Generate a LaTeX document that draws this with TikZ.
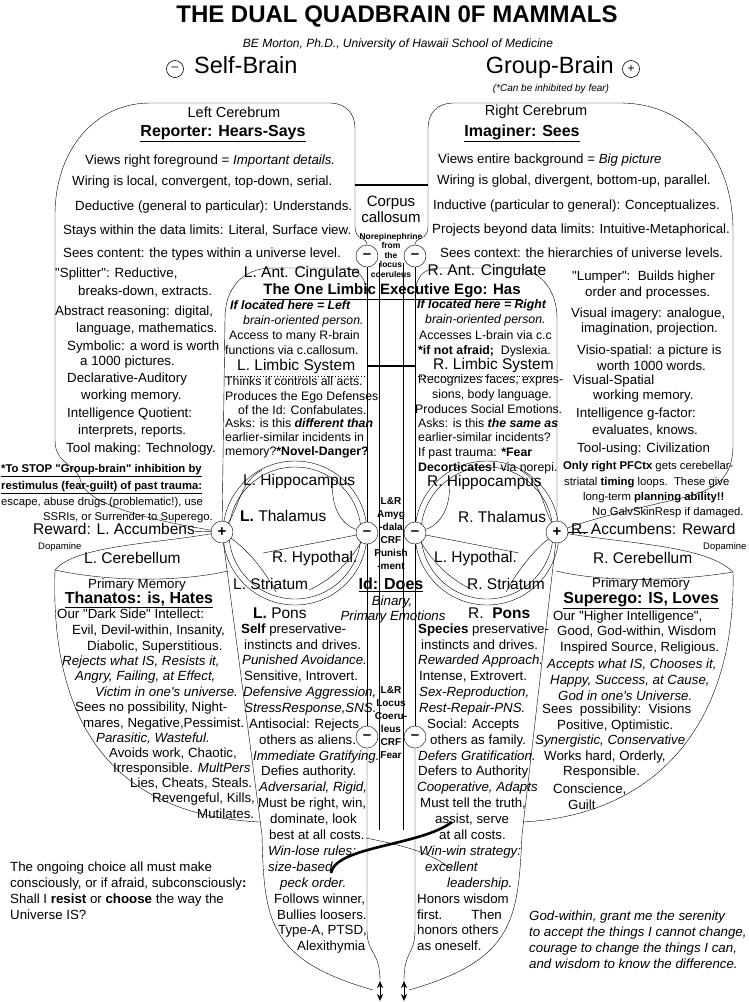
\documentclass[tikz,border=0pt]{standalone}
\usepackage{fontspec}
\setmainfont{Liberation Sans}
\usetikzlibrary{arrows.meta}
\pgfdeclarelayer{bg}
\pgfsetlayers{bg,main}
\newcounter{tn}
\newcommand\putt[4][]{\stepcounter{tn}\node[tx,#1] (t\arabic{tn}) at (#2,#3) {#4};}
\newcommand\qq{\textquotedbl}
\newcommand\ap{\textquotesingle}
\begin{document}
\begin{tikzpicture}[x=1pt,y=-1pt,line width=0.7pt,
  tx/.style={inner sep=0pt, anchor=mid west, font=\fontsize{13.3}{15}\selectfont},
  sm/.style={font=\fontsize{12.3}{15}\selectfont},
  xs/.style={font=\fontsize{11.3}{14}\selectfont},
  lab/.style={font=\fontsize{15.5}{18}\selectfont},
  hd/.style={font=\fontsize{16}{19}\selectfont\bfseries, anchor=mid},
  ctr/.style={anchor=mid},
  nore/.style={inner sep=0pt, font=\fontsize{8.5}{9}\selectfont\bfseries, anchor=mid},
  cn/.style={inner sep=0pt, font=\fontsize{10}{12}\selectfont\bfseries, anchor=mid},
  cir/.style={circle, draw, fill=white, minimum size=22pt, inner sep=0pt, font=\fontsize{15}{15}\selectfont\bfseries},
  hcir/.style={circle, draw, minimum size=17pt, inner sep=0pt, line width=0.6pt, font=\fontsize{12}{12}\selectfont},
  heavy/.style={line width=2.3pt},
  arr/.style={{Stealth[length=7pt,width=6pt]}-{Stealth[length=7pt,width=6pt]}}
]
\useasboundingbox (0,0) rectangle (749,1002);
\begin{pgfonlayer}{bg}
\fill[white] (0,0) rectangle (749,1002);
\draw (295,533) circle[radius=72];
\draw (295,533) circle[radius=66];
\draw (487,533) circle[radius=72];
\draw (487,533) circle[radius=66];
\end{pgfonlayer}

% ---------- header ----------
\node[font=\fontsize{24}{28}\selectfont\bfseries, anchor=mid, inner sep=0] (title) at (397,20) {THE DUAL QUADBRAIN 0F MAMMALS};
\node[font=\fontsize{12}{14}\selectfont\itshape, anchor=mid, inner sep=0] (author) at (398,45) {BE Morton, Ph.D., University of Hawaii School of Medicine};
\node[hcir] (hm) at (175,69) {–};
\node[font=\fontsize{23.5}{28}\selectfont, anchor=mid west, inner sep=0] (selfb) at (194,71) {Self-Brain};
\node[font=\fontsize{23.5}{28}\selectfont, anchor=mid east, inner sep=0] (groupb) at (614,71) {Group-Brain};
\node[hcir] (hp) at (631,69) {+};
\node[font=\fontsize{10}{12}\selectfont\itshape, anchor=mid, inner sep=0] (fear) at (551,89) {(*Can be inhibited by fear)};

% ---------- circles ----------
\node[cir] (mTL) at (367,256) {–};
\node[cir] (mTR) at (415,256) {–};
\node[cir] (pL) at (222,532) {+};
\node[cir] (pR) at (557,532) {+};
\node[cir] (mML) at (367,533) {–};
\node[cir] (mMR) at (415,533) {–};
\node[cir] (mBL) at (367,737) {–};
\node[cir] (mBR) at (415,737) {–};
\coordinate (aL1) at (380,981); \coordinate (aL2) at (380,1001);
\coordinate (aR1) at (404,981); \coordinate (aR2) at (404,1001);
\coordinate (racc) at (588,532);

% ---------- outlines ----------
\draw (pL) .. controls (150,520) and (88,505) .. (81,482) .. controls (76,462) and (55,465) .. (55,440) -- (55,215) .. controls (55,150) and (95,103) .. (150,103) -- (330,103) .. controls (345,103) and (355,113) .. (355,128) -- (355,226) .. controls (355,242) and (367,236) .. (mTL);
\draw (mTR) .. controls (415,236) and (428,242) .. (428,226) -- (428,128) .. controls (428,113) and (438,103) .. (453,103) -- (620,103) .. controls (690,103) and (733,160) .. (733,230) -- (733,445) .. controls (733,478) and (716,488) .. (690,496) .. controls (640,508) and (600,516) .. (pR);
\draw[heavy] (355,185) -- (428,185);
\draw (pL) -- (225,318) .. controls (225,288) and (243,268) .. (272,268) -- (343,268) .. controls (358,268) and (367,278) .. (367,296);
\draw (415,296) .. controls (415,278) and (423,268) .. (439,268) -- (512,268) .. controls (540,268) and (557,290) .. (557,318) -- (pR);
\draw[dotted, line width=0.9pt] (225,376) -- (367,376);
\draw[dotted, line width=0.9pt] (415,376) -- (557,376);
\draw[heavy] (367,366) -- (415,366);
% channel
\draw (mTL) -- (mML);
\draw (mML) -- (mBL);
\draw (mBL) -- (367,930) .. controls (367,955) and (380,950) .. (aL1);
\draw (mTR) -- (mMR);
\draw (mMR) -- (mBR);
\draw (mBR) -- (415,930) .. controls (415,955) and (404,950) .. (aR1);
\draw (379,263) -- (379,830);
\draw (403,263) -- (403,830);
\draw[arr] (aL1) -- (aL2);
\draw[arr] (aR1) -- (aR2);
% thalamus internals
\draw (pL) .. controls (240,505) and (240,482) .. (262,470);
\draw (mML) .. controls (340,524) and (330,505) .. (333,478);
\draw (263,553) -- (mML);
\draw (pL) .. controls (245,548) and (262,566) .. (276,592);
\draw (309,590) .. controls (335,578) and (350,560) .. (mML);
\draw (pR) .. controls (542,505) and (542,482) .. (520,470);
\draw (mMR) .. controls (442,524) and (452,505) .. (449,478);
\draw (519,553) -- (mMR);
\draw (pR) .. controls (537,548) and (520,566) .. (506,592);
\draw (473,590) .. controls (447,578) and (432,560) .. (mMR);
% cerebellum and lower lobes
\draw (pL) .. controls (150,544) and (75,546) .. (55,570);
\draw (55,570) .. controls (110,582) and (180,582) .. (228,571);
\draw (55,570) .. controls (50,720) and (110,815) .. (260,822);
\draw (pL) -- (262,835) .. controls (264,920) and (268,960) .. (373,990);
\draw (pR) .. controls (632,544) and (707,546) .. (733,572);
\draw (733,572) .. controls (672,582) and (602,582) .. (556,571);
\draw (733,572) .. controls (736,720) and (660,815) .. (522,822);
\draw (pR) -- (522,835) .. controls (518,920) and (514,960) .. (409,990);
\draw (pR) -- (racc);
% crossing strands
\draw[line width=2.6pt] (331,873) .. controls (336,846) and (420,846) .. (452,822);
\draw (366,838) .. controls (400,845) and (432,852) .. (452,870);

% ---------- left cerebrum ----------
\putt[lab,ctr,font=\fontsize{14.5}{17}\selectfont]{234}{115}{Left Cerebrum}
\putt[hd]{223}{134}{\underline{Reporter: Hears-Says}}
\putt{85}{162}{Views right foreground = \textit{Important details.}}
\putt{72}{183}{Wiring is local, convergent, top-down, serial.}
\putt{75}{208}{Deductive (general to particular): Understands.}
\putt{63}{232}{Stays within the data limits: Literal, Surface view.}
\putt{63}{255}{Sees content: the types within a universe level.}
\putt{55}{275}{\qq Splitter\qq: Reductive,}
\putt{78}{293}{breaks-down, extracts.}
\putt{55}{313}{Abstract reasoning: digital,}
\putt{76}{330}{language, mathematics.}
\putt{67}{348}{Symbolic: a word is worth}
\putt{80}{363}{a 1000 pictures.}
\putt{67}{380}{Declarative-Auditory}
\putt{81}{397}{working memory.}
\putt{67}{415}{Intelligence Quotient:}
\putt{78}{432}{interprets, reports.}
\putt{66}{450}{Tool making: Technology.}
\putt[xs]{1}{470}{\textbf{\underline{*To STOP \qq Group-brain\qq\ inhibition by}}}
\putt[xs]{1}{487}{\textbf{\underline{restimulus (fear-guilt) of past trauma:}}}
\putt[xs]{1}{503}{escape, abuse drugs (problematic!), use}
\putt[xs]{43}{518}{SSRIs, or Surrender to Superego.}

% ---------- right cerebrum ----------
\putt[ctr,font=\fontsize{14.5}{17}\selectfont]{536}{113}{Right Cerebrum}
\putt[hd]{522}{134}{\underline{Imaginer: Sees}}
\putt{438}{161}{Views entire background = \textit{Big picture}}
\putt{437}{182}{Wiring is global, divergent, bottom-up, parallel.}
\putt{433}{207}{Inductive (particular to general): Conceptualizes.}
\putt{432}{231}{Projects beyond data limits: Intuitive-Metaphorical.}
\putt{440}{255}{Sees context: the hierarchies of universe levels.}
\putt{572}{278}{\qq Lumper\qq:\ \ Builds higher}
\putt{585}{294}{order and processes.}
\putt{571}{315}{Visual imagery: analogue,}
\putt{581}{330}{imagination, projection.}
\putt{577}{352}{Visio-spatial: a picture is}
\putt{597}{368}{worth 1000 words.}
\putt{573}{382}{Visual-Spatial}
\putt{593}{397}{working memory.}
\putt{576}{415}{Intelligence g-factor:}
\putt{592}{432}{evaluates, knows.}
\putt{577}{450}{Tool-using: Civilization}
\putt[xs]{563}{467}{\textbf{Only right PFCtx} gets cerebellar-}
\putt[xs]{564}{483}{striatal \textbf{timing} loops.\ \ These give}
\putt[xs]{583}{498}{long-term \textbf{planning ability!!}}
\putt[xs]{592}{513}{No GalvSkinResp if damaged.}

% ---------- corpus callosum ----------
\putt[ctr,font=\fontsize{15}{17}\selectfont]{391}{204}{Corpus}
\putt[ctr,font=\fontsize{15}{17}\selectfont]{391}{220}{callosum}
\node[nore] (ne1) at (391,237) {Norepinephrine};
\node[nore] (ne2) at (391,246) {from};
\node[nore] (ne3) at (391,255.5) {the};
\node[nore] (ne4) at (391,265) {locus};
\node[nore] (ne5) at (391,274.5) {coeruleus};

% ---------- limbic ----------
\putt[lab,ctr]{302}{275}{L. Ant. Cingulate}
\putt[lab,ctr]{487}{273}{R. Ant. Cingulate}
\putt[ctr,font=\fontsize{15}{18}\selectfont\bfseries]{392}{292}{\underline{The One Limbic Executive Ego: Has}}
\putt[sm]{230}{307}{\textbf{\textit{If located here = Left}}}
\putt[sm]{243}{322}{\textit{brain-oriented person.}}
\putt[sm]{229}{337}{Access to many R-brain}
\putt[sm]{225}{352}{functions via c.callosum.}
\putt[lab]{237}{368}{L. Limbic System}
\putt[sm]{225}{383}{Thinks it controls all acts.}
\putt[sm]{225}{398}{Produces the Ego Defenses}
\putt[sm]{238}{412}{of the Id: Confabulates.}
\putt[sm]{225}{425}{Asks: is this \textbf{\textit{different than}}}
\putt[sm]{225}{439}{earlier-similar incidents in}
\putt[sm]{225}{453}{memory?\textbf{*Novel-Danger?}}
\putt[sm]{417}{306}{\textbf{\textit{If located here = Right}}}
\putt[sm]{425}{321}{\textit{brain-oriented person.}}
\putt[sm]{419}{337}{Accesses L-brain via c.c}
\putt[sm]{418}{352}{\textbf{*if not afraid;}\ \ Dyslexia.}
\putt[lab]{433}{367}{R. Limbic System}
\putt[sm]{418}{381}{Recognizes faces, expres-}
\putt[sm]{432}{396}{sions, body language.}
\putt[sm]{415}{411}{Produces Social Emotions.}
\putt[sm]{418}{425}{Asks: is this \textbf{\textit{the same as}}}
\putt[sm]{418}{439}{earlier-similar incidents?}
\putt[sm]{418}{454}{If past trauma: \textbf{*Fear}}
\putt[sm]{418}{469}{\textbf{Decorticates!} via norepi.}

% ---------- thalamus ----------
\putt[lab]{243}{483}{L. Hippocampus}
\putt[lab]{240}{519}{\textbf{L.} Thalamus}
\putt[lab]{272}{560}{R. Hypothal.}
\putt[lab]{233}{587}{L. Striatum}
\putt[lab]{427}{484}{R. Hippocampus}
\putt[lab]{458}{520}{R. Thalamus}
\putt[lab]{434}{560}{L. Hypothal.}
\putt[lab]{467}{587}{R. Striatum}
\putt[cn]{391}{502}{L\&R}
\putt[cn]{391}{515}{Amyg}
\putt[cn]{391}{528}{-dala}
\putt[cn]{391}{541}{CRF}
\putt[cn]{391}{554}{Punish}
\putt[cn]{391}{567}{-ment}

% ---------- accumbens / cerebellum ----------
\node[tx,lab] (reward) at (33,532) {Reward: L. Accumbens};
\putt[font=\fontsize{9.5}{11}\selectfont]{38}{547}{Dopamine}
\putt[lab]{84}{561}{L. Cerebellum}
\putt{88}{586}{Primary Memory}
\putt[hd]{139}{601}{\underline{Thanatos: is, Hates}}
\node[tx,lab] (raccl) at (571,532) {R. Accumbens: Reward};
\putt[font=\fontsize{9.5}{11}\selectfont]{703}{547}{Dopamine}
\putt[lab]{593}{561}{R. Cerebellum}
\putt{592}{585}{Primary Memory}
\putt[hd]{641}{601}{\underline{Superego: IS, Loves}}

% ---------- Id ----------
\putt[hd]{391}{587}{\underline{Id: Does}}
\putt[ctr]{392}{603}{\textit{Binary,}}
\putt[ctr]{393}{618}{\textit{Primary Emotions}}
\putt[cn]{391}{691}{L\&R}
\putt[cn]{391}{704}{Locus}
\putt[cn]{391}{717}{Coeru-}
\putt[cn]{391}{730}{leus}
\putt[cn]{391}{743}{CRF}
\putt[cn]{391}{756}{Fear}

% ---------- Thanatos ----------
\putt{57}{616}{Our \qq Dark Side\qq\ Intellect:}
\putt{72}{632}{Evil, Devil-within, Insanity,}
\putt{87}{648}{Diabolic, Superstitious.}
\putt{62}{663}{\textit{Rejects what IS, Resists it,}}
\putt{75}{678}{\textit{Angry, Failing, at Effect,}}
\putt{95}{694}{\textit{Victim in one\ap s universe.}}
\putt{75}{709}{Sees no possibility, Night-}
\putt{83}{725}{mares, Negative,Pessimist.}
\putt{96}{740}{\textit{Parasitic, Wasteful.}}
\putt{109}{755}{Avoids work, Chaotic,}
\putt{113}{770}{Irresponsible. \textit{MultPers}}
\putt{130}{785}{Lies, Cheats, Steals.}
\putt{152}{800}{Revengeful, Kills,}
\putt{197}{816}{Mutilates.}

% ---------- Superego ----------
\putt{553}{618}{Our \qq Higher Intelligence\qq,}
\putt{557}{633}{Good, God-within, Wisdom}
\putt{560}{649}{Inspired Source, Religious.}
\putt{547}{666}{\textit{Accepts what IS, Chooses it,}}
\putt{550}{682}{\textit{Happy, Success, at Cause,}}
\putt{558}{698}{\textit{God in one\ap s Universe.}}
\putt{542}{711}{Sees\ \ possibility:\ \ Visions}
\putt{557}{727}{Positive, Optimistic.}
\putt{535}{742}{\textit{Synergistic, Conservative}}
\putt{544}{758}{Works hard, Orderly,}
\putt{563}{773}{Responsible.}
\putt{553}{791}{Conscience,}
\putt{568}{807}{Guilt}

% ---------- Pons columns ----------
\putt[lab]{253}{616}{\textbf{L.} Pons}
\putt[lab]{468}{616}{R.\ \ \textbf{Pons}}
\putt{241}{631}{\textbf{Self} preservative-}
\putt{244}{647}{instincts and drives.}
\putt{242}{662}{\textit{Punished Avoidance.}}
\putt{244}{678}{Sensitive, Introvert.}
\putt{243}{694}{\textit{Defensive Aggression,}}
\putt{244}{710}{\textit{StressResponse,SNS.}}
\putt{249}{726}{Antisocial: Rejects}
\putt{259}{742}{others as aliens.}
\putt{253}{758}{\textit{Immediate Gratifying.}}
\putt{261}{773}{Defies authority.}
\putt{259}{789}{\textit{Adversarial, Rigid,}}
\putt{258}{805}{Must be right, win,}
\putt{270}{821}{dominate, look}
\putt{269}{837}{best at all costs.}
\putt{268}{853}{\textit{Win-lose rules:}}
\putt{268}{869}{\textit{size-based}}
\putt{280}{885}{\textit{peck order.}}
\putt{274}{901}{Follows winner,}
\putt{277}{917}{Bullies loosers.}
\putt{278}{932}{Type-A, PTSD,}
\putt{297}{948}{Alexithymia}
\putt{418}{631}{\textbf{Species} preservative-}
\putt{421}{647}{instincts and drives.}
\putt{418}{662}{\textit{Rewarded Approach.}}
\putt{419}{678}{Intense, Extrovert.}
\putt{419}{694}{\textit{Sex-Reproduction,}}
\putt{419}{710}{\textit{Rest-Repair-PNS.}}
\putt{427}{726}{Social: Accepts}
\putt{430}{742}{others as family.}
\putt{418}{758}{\textit{Defers Gratification.}}
\putt{418}{773}{Defers to Authority}
\putt{417}{789}{\textit{Cooperative, Adapts}}
\putt{420}{805}{Must tell the truth,}
\putt{435}{821}{assist, serve}
\putt{439}{837}{at all costs.}
\putt{419}{853}{\textit{Win-win strategy:}}
\putt{425}{869}{\textit{excellent}}
\putt{447}{885}{\textit{leadership.}}
\putt{417}{901}{Honors wisdom}
\putt{417}{917}{first.}
\putt[anchor=mid east]{502}{917}{Then}
\putt{417}{932}{honors others}
\putt{417}{948}{as oneself.}

% ---------- bottom texts ----------
\putt{10}{869}{The ongoing choice all must make}
\putt{10}{885}{consciously, or if afraid, subconsciously\textbf{:}}
\putt{10}{901}{Shall I \textbf{resist} or \textbf{choose} the way the}
\putt{10}{917}{Universe IS?}
\putt{529}{918}{\textit{God-within, grant me the serenity}}
\putt{529}{934}{\textit{to accept the things I cannot change,}}
\putt{529}{950}{\textit{courage to change the things I can,}}
\putt{529}{966}{\textit{and wisdom to know the difference.}}

\draw (reward) -- (pL);
\end{tikzpicture}
\end{document}
